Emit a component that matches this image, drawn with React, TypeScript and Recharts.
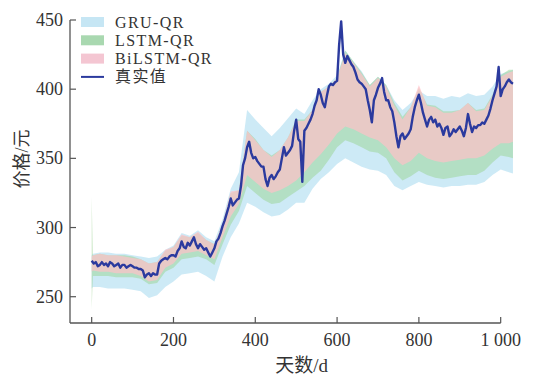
import { ComposedChart, Area, Line, XAxis, YAxis, ReferenceLine } from "recharts";

// true price, one value every 5 days (day 0 .. 1030)
const trueDays = [
  0, 5, 10, 15, 20, 25, 30, 35, 40, 45, 50, 55, 60, 65, 70, 75, 80, 85, 90, 95,
  100, 105, 110, 115, 120, 125, 130, 135, 140, 145, 150, 155, 160, 165, 170, 175, 180, 185, 190, 195,
  200, 205, 210, 215, 220, 225, 230, 235, 240, 245, 250, 255, 260, 265, 270, 275, 280, 285, 290, 295,
  300, 305, 310, 315, 320, 325, 330, 335, 340, 345, 350, 355, 360, 365, 370, 375, 380, 385, 390, 395,
  400, 405, 410, 415, 420, 425, 430, 435, 440, 445, 450, 455, 460, 465, 470, 475, 480, 485, 490, 495,
  500, 505, 510, 515, 520, 525, 530, 535, 540, 545, 550, 555, 560, 565, 570, 575, 580, 585, 590, 595,
  600, 605, 610, 615, 620, 625, 630, 635, 640, 645, 650, 655, 660, 665, 670, 675, 680, 685, 690, 695,
  700, 705, 710, 715, 720, 725, 730, 735, 740, 745, 750, 755, 760, 765, 770, 775, 780, 785, 790, 795,
  800, 805, 810, 815, 820, 825, 830, 835, 840, 845, 850, 855, 860, 865, 870, 875, 880, 885, 890, 895,
  900, 905, 910, 915, 920, 925, 930, 935, 940, 945, 950, 955, 960, 965, 970, 975, 980, 985, 990, 995,
  1000, 1005, 1010, 1015, 1020, 1025, 1030,
];
const trueValues = [
  276, 274, 275, 272, 273, 275, 273, 274, 272, 275, 274, 272, 273, 274, 271, 273, 273, 271, 272, 273,
  272, 271, 271, 270, 270, 269, 264, 266, 267, 265, 267, 266, 266, 274, 276, 277, 278, 277, 279, 280,
  280, 279, 283, 285, 290, 286, 285, 289, 287, 290, 293, 288, 285, 288, 286, 284, 285, 282, 279, 282,
  285, 290, 292, 296, 301, 305, 310, 315, 321, 316, 318, 320, 321, 330, 345, 350, 358, 362, 354, 350,
  351, 348, 346, 344, 344, 335, 330, 336, 338, 335, 337, 340, 342, 350, 358, 352, 354, 356, 359, 370,
  378, 364, 362, 333, 370, 372, 375, 378, 382, 388, 392, 400, 396, 390, 387, 395, 402, 404, 403, 405,
  406, 432, 449, 425, 419, 424, 421, 418, 416, 412, 407, 405, 404, 402, 400, 392, 385, 376, 392, 396,
  401, 404, 408, 398, 392, 392, 387, 384, 376, 366, 358, 366, 368, 364, 366, 368, 371, 380, 387, 392,
  396, 390, 383, 378, 373, 378, 380, 376, 378, 373, 375, 372, 367, 372, 373, 366, 368, 371, 369, 371,
  373, 370, 366, 372, 382, 375, 369, 373, 372, 374, 374, 376, 375, 378, 381, 386, 392, 397, 402, 416,
  395, 400, 402, 405, 407, 405, 404,
];

// interval bands, [lower, upper] read every 20 days
const bandDays = [
  0, 3, 20, 40, 60, 80, 100, 120, 140, 160, 180, 200, 220, 240, 260, 280, 300, 320, 340, 360,
  380, 400, 420, 440, 460, 480, 500, 520, 540, 560, 580, 600, 620, 640, 660, 680, 700, 720, 740, 760,
  780, 800, 820, 840, 860, 880, 900, 920, 940, 960, 980, 1000, 1020, 1030,
];
const gruLower = [
  256, 257, 257, 256, 256, 256, 255, 254, 249, 251, 257, 261, 266, 267, 268, 265, 261, 279, 293, 303,
  318, 315, 311, 308, 309, 313, 318, 318, 328, 335, 340, 346, 350, 347, 344, 342, 341, 338, 330, 327,
  330, 333, 331, 330, 329, 330, 330, 331, 331, 333, 338, 342, 340, 339,
];
const gruUpper = [
  280, 281, 282, 282, 281, 281, 280, 279, 278, 279, 284, 287, 296, 294, 298, 293, 290, 306, 328, 340,
  385, 378, 372, 366, 372, 379, 386, 382, 392, 400, 404, 410, 428, 420, 413, 403, 409, 403, 392, 385,
  390, 399, 395, 395, 393, 395, 394, 397, 395, 396, 402, 411, 413, 414,
];
const lstmLower = [
  241, 265, 265, 265, 264, 264, 264, 263, 259, 260, 268, 271, 277, 278, 279, 277, 273, 288, 302, 312,
  330, 325, 320, 317, 318, 322, 326, 330, 336, 341, 349, 358, 363, 361, 358, 355, 354, 350, 340, 334,
  337, 341, 338, 336, 335, 336, 337, 338, 338, 341, 347, 352, 351, 350,
];
const lstmUpper = [
  322, 280, 281, 280, 280, 280, 279, 277, 274, 275, 283, 286, 294, 293, 296, 291, 288, 302, 325, 327,
  370, 364, 356, 352, 356, 365, 378, 378, 385, 398, 402, 408, 428, 420, 412, 403, 409, 403, 390, 380,
  387, 401, 389, 388, 384, 384, 385, 390, 385, 386, 396, 410, 414, 414,
];
const bilstmLower = [
  268, 269, 268, 268, 267, 267, 267, 265, 261, 262, 271, 274, 281, 282, 283, 280, 277, 293, 308, 317,
  338, 333, 328, 325, 327, 330, 334, 340, 347, 353, 360, 368, 373, 371, 368, 365, 363, 358, 350, 345,
  348, 354, 350, 348, 347, 348, 349, 350, 350, 352, 357, 361, 361, 362,
];
const bilstmUpper = [
  279, 280, 281, 280, 280, 279, 278, 277, 274, 275, 284, 286, 295, 293, 297, 291, 288, 303, 326, 327,
  370, 363, 356, 351, 356, 365, 377, 377, 385, 398, 402, 408, 426, 419, 411, 402, 408, 402, 388, 378,
  387, 403, 388, 387, 383, 383, 385, 390, 384, 385, 395, 409, 412, 413,
];

const xTicks = [0, 200, 400, 600, 800, 1000];
const yTicks = [250, 300, 350, 400, 450];

const legendItems = [
  { name: "GRU-QR", color: "#c6e6f4", kind: "box" },
  { name: "LSTM-QR", color: "#a9d8b0", kind: "box" },
  { name: "BiLSTM-QR", color: "#f4c6d2", kind: "box" },
  { name: "真实值", color: "#2b3a9e", kind: "line" },
];

const bandData = bandDays.map((day, i) => ({
  day,
  gru: [gruLower[i], gruUpper[i]],
  lstm: [lstmLower[i], lstmUpper[i]],
  bilstm: [bilstmLower[i], bilstmUpper[i]],
}));
const lineData = trueDays.map((day, i) => ({ day, price: trueValues[i] }));

const serif = "'Liberation Serif', 'Times New Roman', 'Noto Sans CJK SC', serif";
const axisColor = "#555";

function XTick(props: any) {
  const { x, y, payload } = props;
  const label = payload.value === 1000 ? "1 000" : String(payload.value);
  return (
    <g>
      <line x1={x} x2={x} y1={y} y2={y - 6} stroke={axisColor} strokeWidth={1.2} />
      <text x={x} y={y + 17} textAnchor="middle" dominantBaseline="central" fontFamily={serif} fontSize={18} fill="#333">
        {label}
      </text>
    </g>
  );
}

function YTick(props: any) {
  const { x, y, payload } = props;
  return (
    <g>
      <line x1={x} x2={x + 6} y1={y} y2={y} stroke={axisColor} strokeWidth={1.2} />
      <text x={x - 7} y={y} textAnchor="end" dominantBaseline="central" fontFamily={serif} fontSize={18} fill="#333">
        {payload.value}
      </text>
    </g>
  );
}

export default function App() {
  return (
    <div style={{ position: "absolute", left: 0, top: 0, width: 552, height: 374, background: "#fff" }}>
      <ComposedChart width={552} height={374} margin={{ top: 20, right: 37, bottom: 11, left: 10 }}>
        <XAxis
          type="number"
          dataKey="day"
          domain={[-53, 1035]}
          ticks={xTicks}
          allowDataOverflow
          axisLine={false}
          tickLine={false}
          tickSize={0}
          tickMargin={0}
          height={40}
          tick={XTick}
        />
        <YAxis
          type="number"
          domain={[231, 450]}
          ticks={yTicks}
          allowDataOverflow
          axisLine={{ stroke: axisColor, strokeWidth: 1.3 }}
          tickLine={false}
          tickSize={0}
          tickMargin={0}
          width={60}
          tick={YTick}
        />
        <Area
          data={bandData}
          dataKey="gru"
          stroke="none"
          fill="#c4e6f4"
          fillOpacity={0.85}
          isAnimationActive={false}
          activeDot={false}
        />
        <Area
          data={bandData}
          dataKey="lstm"
          stroke="none"
          fill="#99d491"
          fillOpacity={0.5}
          isAnimationActive={false}
          activeDot={false}
        />
        <Area
          data={bandData}
          dataKey="bilstm"
          stroke="none"
          fill="#ffc0c7"
          fillOpacity={0.7}
          isAnimationActive={false}
          activeDot={false}
        />
        <Line
          data={lineData}
          dataKey="price"
          stroke="#2b3a9e"
          strokeWidth={2.4}
          strokeLinejoin="round"
          dot={false}
          activeDot={false}
          isAnimationActive={false}
        />
        <ReferenceLine
          segment={[{ x: -53, y: 231 }, { x: 1000, y: 231 }]}
          stroke={axisColor}
          strokeWidth={1.3}
          ifOverflow="visible"
        />
      </ComposedChart>
      <svg width={552} height={374} style={{ position: "absolute", left: 0, top: 0, pointerEvents: "none" }}>
        {legendItems.map((item, i) => {
          const cy = 22 + i * 18.3;
          return (
            <g key={item.name}>
              {item.kind === "box" ? (
                <rect x={81} y={cy - 5} width={23} height={10} fill={item.color} />
              ) : (
                <line x1={81} x2={104} y1={cy} y2={cy} stroke={item.color} strokeWidth={2} />
              )}
              <text
                x={115}
                y={cy}
                dominantBaseline="central"
                fontFamily={serif}
                fontSize={16}
                letterSpacing={1.4}
                fill="#333"
              >
                {item.name}
              </text>
            </g>
          );
        })}
        <text
          transform="translate(21.7,159) rotate(-90)"
          textAnchor="middle"
          dominantBaseline="central"
          fontFamily={serif}
          fontSize={18}
          fill="#333"
        >
          价格/元
        </text>
        <text x={301.7} y={365} textAnchor="middle" dominantBaseline="central" fontFamily={serif} fontSize={19} fill="#333">
          天数/d
        </text>
      </svg>
    </div>
  );
}
